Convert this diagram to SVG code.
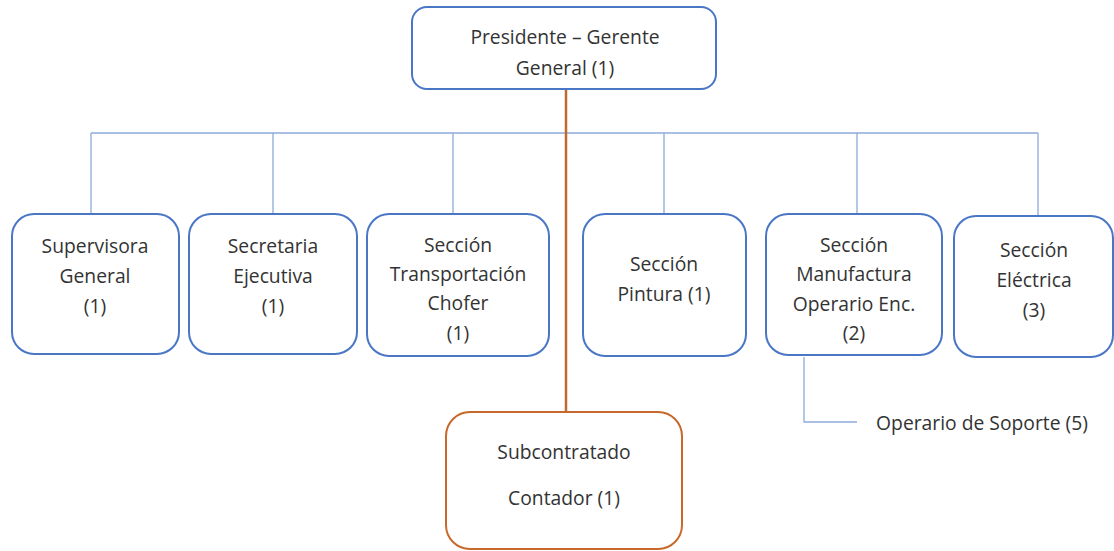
<svg xmlns="http://www.w3.org/2000/svg" width="1114" height="551" viewBox="0 0 1114 551">
<style>
.box{fill:#fff;stroke:#4a76c6;stroke-width:2}
.obox{fill:#fff;stroke:#c8682a;stroke-width:2}
.ln{stroke:#8eaadb;stroke-width:1.3;fill:none}
.oln{stroke:#c0682e;stroke-width:2.5;fill:none}
text{font-family:"Open Sans","Liberation Sans",sans-serif;font-size:19.3px;fill:#333;text-anchor:middle}
</style>
<rect width="1114" height="551" fill="#fff"/>
<g id="connectors">
<path class="ln" d="M91 133H1038M91 133V214M273 133V214M453 133V214M664 133V214M857 133V214M1038 133V216"/>
<path class="ln" d="M804 357V422H857"/>
<path class="oln" d="M566 89V412"/>
</g>
<g id="presidente"><rect class="box" x="412" y="7" width="304" height="82" rx="15"/>
<text x="565" y="44">Presidente – Gerente</text><text x="565" y="75">General (1)</text></g>
<g id="supervisora"><rect class="box" x="12" y="214" width="167" height="140" rx="22"/>
<text x="95" y="253">Supervisora</text><text x="95" y="283">General</text><text x="95" y="313">(1)</text></g>
<g id="secretaria"><rect class="box" x="189" y="214" width="168" height="140" rx="22"/>
<text x="273" y="253">Secretaria</text><text x="273" y="283">Ejecutiva</text><text x="273" y="313">(1)</text></g>
<g id="transportacion"><rect class="box" x="367" y="214" width="182" height="142" rx="22"/>
<text x="458" y="252">Sección</text><text x="458" y="281">Transportación</text><text x="458" y="310">Chofer</text><text x="458" y="340">(1)</text></g>
<g id="pintura"><rect class="box" x="583" y="214" width="163" height="142" rx="22"/>
<text x="664" y="271">Sección</text><text x="664" y="301">Pintura (1)</text></g>
<g id="manufactura"><rect class="box" x="766" y="214" width="176" height="141" rx="22"/>
<text x="854" y="252">Sección</text><text x="854" y="281">Manufactura</text><text x="854" y="311">Operario Enc.</text><text x="854" y="340">(2)</text></g>
<g id="electrica"><rect class="box" x="954" y="216" width="159" height="141" rx="22"/>
<text x="1034" y="257">Sección</text><text x="1034" y="287">Eléctrica</text><text x="1034" y="317">(3)</text></g>
<g id="soporte"><text x="982" y="430">Operario de Soporte (5)</text></g>
<g id="subcontratado"><rect class="obox" x="446" y="412" width="236" height="137" rx="24"/>
<text x="564" y="459">Subcontratado</text><text x="564" y="505">Contador (1)</text></g>
</svg>
